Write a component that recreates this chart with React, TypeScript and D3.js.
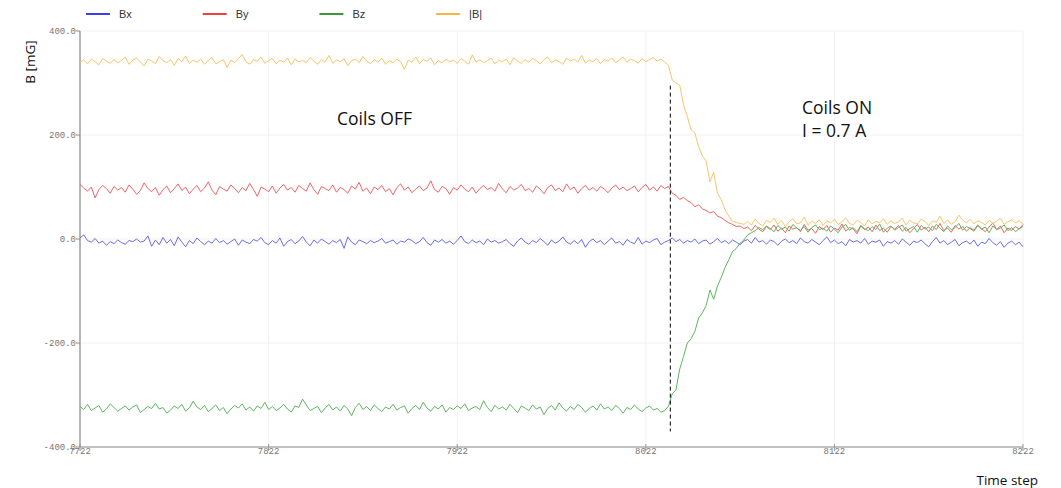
import React from 'react';
import { scaleLinear, line } from 'd3';

// sampled every 2 time steps, starting at 7722
const startTime = 7722;
const stepSize = 2;
const switchTime = 8035;

const bx = [
  2, 8, -3, -6, 1, -8, -4, -12, -5, -9, -2, -7, -10, -3, -5, 0, -6, -4, 6, -14,
  -2, -11, 3, -8, -1, -13, 4, -6, -15, -3, -9, 2, -5, -11, -4, -8, 1, -7, -3, -10,
  -5, 0, -12, -2, -6, -9, -1, -4, 3, -7, -11, -3, -8, 2, -14, -5, -1, -9, -4, 5,
  -6, -13, -2, -8, 0, -5, -10, -3, -7, -1, -18, 4, -6, -11, -2, -5, -9, -3, -7, -4,
  1, -8, -5, -2, -10, -4, -6, 0, -3, -9, -5, 3, -7, -12, -2, -6, -1, -8, -4, -10,
  -3, 6, -5, -9, -2, -7, -4, -11, 0, -6, -3, -8, -5, -1, -9, -14, -4, 2, -6, -10,
  -3, -7, 1, -5, -12, -2, -8, -4, 4, -6, -10, -3, -9, -1, -16, -5, 0, -7, -3, -11,
  -4, 2, -8, -5, -12, -1, -6, -9, 3, -10, -4, -7, -2, 1, -11, -6, -3,
  2, -5, -1, -8, -3, -6, 0, -9, -4, -2, -10, -5, 1, -7, -3, -9, -2, -6, -11, -4,
  -1, -8, 3, -6, -3, -10, -2, -5, -12, -4, 0, -7, -3, -9, 2, -5, -8, -1, -6, -11,
  -3, 4, -7, -2, -9, -5, -13, -1, -6, -3, -8, 1, -10, -4, -6, -2, -14, -5, -8, -3,
  -10, 0, -6, -12, -4, -7, -2, -9, -15, -5, 3, -8, -3, -11, -6, -1, -13, -7, -4, -10,
  -2, -14, -6, -9, 1, -7, -12, -5, -16, -8, -4, -11, -6, -15,
];

const by = [
  105, 98, 92, 100, 79, 95, 103, 97, 88, 101, 94, 99, 90, 104, 96, 86, 93, 108, 97, 91,
  99, 84, 95, 102, 89, 97, 106, 93, 100, 87, 96, 103, 91, 98, 110, 94, 85, 101, 96, 92,
  104, 97, 89, 99, 93, 107, 95, 82, 100, 96, 91, 102, 88, 98, 105, 94, 99, 90, 103, 97,
  92, 108, 95, 86, 101, 97, 93, 104, 90, 99, 95, 88, 102, 96, 109, 92, 98, 87, 100, 95,
  103, 91, 97, 85, 99, 106, 94, 100, 89, 96, 102, 93, 98, 112, 95, 90, 101, 97, 86, 99,
  94, 104, 96, 91, 100, 88, 97, 103, 95, 99, 92, 107, 96, 89, 101, 94, 98, 105, 93, 97,
  90, 102, 96, 87, 99, 104, 93, 98, 91, 106, 95, 100, 88, 97, 103, 94, 99, 92, 101, 96,
  89, 98, 104, 95, 100, 93, 97, 102, 91, 99, 105, 94, 100, 92, 103, 97, 101,
  88, 84, 76, 80, 74, 70, 62, 66, 58, 55, 50, 53, 44, 41, 36, 31, 28, 24, 25, 20,
  23, 16, 26, 19, 14, 24, 18, 27, 15, 21, 12, 25, 19, 22, 14, 28, 17, 20, 11, 24,
  18, 26, 13, 21, 17, 29, 15, 22, 19, 10, 25, 18, 23, 14, 27, 16, 21, 13, 24, 19,
  26, 15, 22, 12, 20, 28, 17, 23, 14, 25, 18, 30, 16, 21, 13, 26, 19, 24, 15, 22,
  17, 27, 20, 14, 23, 31, 18, 25, 12, 21, 16, 24, 19, 28,
];

const bz = [
  -322, -328, -318, -330, -325, -320, -333, -327, -317, -324, -331, -326, -321, -329, -323, -319, -334, -328, -322, -326,
  -316, -327, -324, -335, -329, -321, -326, -318, -331, -325, -312, -323, -328, -320, -332, -326, -319, -330, -324, -336,
  -327, -320, -325, -317, -329, -323, -331, -321, -326, -314, -328, -322, -330, -325, -318, -327, -333, -321, -324, -308,
  -319, -330, -326, -322, -334, -325, -318, -329, -323, -331, -320, -327, -340, -324, -316, -328, -322, -330, -319, -326,
  -332, -323, -327, -318, -329, -324, -321, -335, -326, -320, -328, -314, -325, -331, -322, -327, -319, -333, -324, -328,
  -321, -326, -317, -330, -325, -322, -328, -311, -324, -332, -320, -327, -323, -329, -318, -326, -334, -321, -325, -330,
  -319, -327, -323, -338, -326, -320, -329, -315, -325, -331, -322, -328, -318, -324, -333, -326, -321, -329, -317, -327,
  -323, -330, -320, -326, -335, -324, -328, -319, -327, -332, -325, -321, -329, -326, -333, -330, -322,
  -298, -290, -250, -226, -200, -192, -178, -152, -142, -128, -98, -116, -90, -74, -55, -40, -24, -18, -8, -2,
  8, 12, 16, 22, 18, 25, 20, 14, 26, 19, 23, 15, 28, 21, 17, 24, 13, 22, 27, 18,
  21, 15, 25, 19, 12, 23, 28, 17, 22, 14, 26, 20, 16, 24, 18, 29, 13, 21, 25, 17,
  22, 27, 15, 20, 24, 13, 26, 19, 23, 16, 28, 21, 14, 25, 18, 22, 30, 17, 24, 20,
  15, 26, 19, 23, 12, 25, 18, 21, 27, 16, 22, 14, 20, 24,
];

const bAbs = [
  340, 344, 337, 346, 341, 335, 347, 342, 338, 345, 339, 343, 350, 336, 344, 348, 340, 333, 346, 342,
  337, 351, 343, 339, 345, 334, 347, 341, 352, 338, 344, 340, 346, 336, 343, 349, 337, 341, 345, 330,
  344, 339, 347, 355, 341, 336, 345, 342, 350, 338, 343, 347, 337, 344, 340, 348, 335, 346, 341, 343,
  339, 349, 342, 336, 345, 340, 353, 338, 344, 341, 347, 333, 343, 346, 339, 351, 342, 337, 345, 340,
  348, 336, 343, 339, 346, 341, 326, 344, 340, 350, 337, 345, 342, 348, 335, 343, 339, 346, 341, 344,
  338, 347, 342, 336, 354, 340, 345, 339, 343, 348, 337, 344, 341, 346, 335, 349, 342, 338, 345, 340,
  347, 343, 337, 345, 350, 339, 344, 341, 336, 348, 342, 346, 340, 353, 338, 344, 341, 347, 337, 345,
  342, 348, 339, 344, 350, 340, 346, 343, 338, 347, 341, 345, 349, 342, 346, 340, 334,
  306, 300, 296, 258, 236, 210, 204, 178, 160, 150, 110, 128, 88, 76, 56, 44, 34, 32, 30, 28,
  34, 27, 38, 30, 25, 36, 32, 40, 28, 35, 24, 33, 39, 29, 31, 42, 27, 34, 30, 37,
  26, 35, 31, 38, 28, 33, 41, 30, 27, 36, 32, 25, 37, 29, 34, 31, 39, 28, 35, 30,
  33, 40, 27, 36, 31, 29, 38, 34, 26, 35, 32, 44, 30, 37, 28, 33, 46, 36, 31, 38,
  29, 35, 32, 27, 36, 30, 34, 40, 28, 33, 37, 31, 35, 29,
];

const xTicks = [7722, 7822, 7922, 8022, 8122, 8222];
const yTicks = [400, 200, 0, -200, -400];

const seriesNames = ['Bx', 'By', 'Bz', '|B|'];
const seriesData = [bx, by, bz, bAbs];
const lineColors = ['#6b6bf2', '#f06464', '#5db65d', '#f8c46c'];
const legendColors = ['#3c3cf0', '#ee4040', '#3a9a3a', '#f6b444'];

const width = 1061;
const height = 488;
const mono = '"Liberation Mono", "DejaVu Sans Mono", monospace';
const sans = '"Open Sans", "Liberation Sans", sans-serif';

const App: React.FC = () => {
  const xScale = scaleLinear([7722, 8222], [80, 1023]);
  const yScale = scaleLinear([-400, 400], [447, 31]);

  const lineGen = line<number>()
    .x((_, i) => xScale(startTime + i * stepSize))
    .y(d => yScale(d));

  return (
    <svg width={width} height={height} style={{ position: 'absolute', left: 0, top: 0, background: '#fff' }}>
      {/* grid */}
      {xTicks.map(t => (
        <line key={'gx' + t} x1={xScale(t)} x2={xScale(t)} y1={yScale(400)} y2={yScale(-400)} stroke="#f1f1f1" strokeWidth={1} />
      ))}
      {yTicks.map(t => (
        <line key={'gy' + t} x1={xScale(7722)} x2={xScale(8222)} y1={yScale(t)} y2={yScale(t)} stroke="#f1f1f1" strokeWidth={1} />
      ))}

      {/* axes */}
      <line x1={xScale(7722)} x2={xScale(7722)} y1={yScale(400)} y2={yScale(-400)} stroke="#8a8a8a" strokeWidth={1.2} />
      <line x1={xScale(7722)} x2={xScale(8222)} y1={yScale(-400)} y2={yScale(-400)} stroke="#8a8a8a" strokeWidth={1.2} />
      {yTicks.map(t => (
        <g key={'yt' + t}>
          <line x1={xScale(7722) - 4} x2={xScale(7722)} y1={yScale(t)} y2={yScale(t)} stroke="#8a8a8a" />
          <text x={xScale(7722) - 4} y={yScale(t)} dy="0.35em" textAnchor="end" fontFamily={mono} fontSize={9} fill="#777">
            {t.toFixed(1)}
          </text>
        </g>
      ))}
      {xTicks.map(t => (
        <g key={'xt' + t}>
          <line x1={xScale(t)} x2={xScale(t)} y1={yScale(-400) - 3} y2={yScale(-400) + 4} stroke="#999" />
          <text x={xScale(t)} y={yScale(-400) + 7} textAnchor="middle" fontFamily={mono} fontSize={9} fill="#777">
            {t}
          </text>
        </g>
      ))}

      {/* series */}
      {seriesData.map((s, i) => (
        <path key={seriesNames[i]} d={lineGen(s) || ''} fill="none" stroke={lineColors[i]} strokeWidth={1} strokeLinejoin="round" />
      ))}

      {/* coil switch marker */}
      <line x1={xScale(switchTime)} x2={xScale(switchTime)} y1={yScale(295)} y2={yScale(-370)} stroke="#000" strokeWidth={1} strokeDasharray="4,3" />

      {/* legend */}
      {seriesNames.map((n, i) => (
        <g key={'lg' + n} transform={`translate(${86 + i * 116.7},14)`}>
          <line x1={0} x2={24} y1={0} y2={0} stroke={legendColors[i]} strokeWidth={2} />
          <text x={33} y={0} dy="0.35em" fontFamily={'"Liberation Sans", Arial, sans-serif'} fontSize={11} fill="#333">
            {n}
          </text>
        </g>
      ))}

      {/* labels */}
      <text transform="translate(35,62) rotate(-90)" textAnchor="middle" fontFamily={sans} fontSize={13.5} fill="#111">
        B [mG]
      </text>
      <text x={1038} y={485} textAnchor="end" fontFamily={sans} fontSize={13.5} fill="#111">
        Time step
      </text>
      <text x={337} y={125} fontFamily={sans} fontSize={17.5} fill="#111">
        Coils OFF
      </text>
      <text x={802} y={114} fontFamily={sans} fontSize={17.5} fill="#111">
        Coils ON
      </text>
      <text x={802} y={137} fontFamily={sans} fontSize={17.5} fill="#111">
        I = 0.7 A
      </text>
    </svg>
  );
};

export default App;
